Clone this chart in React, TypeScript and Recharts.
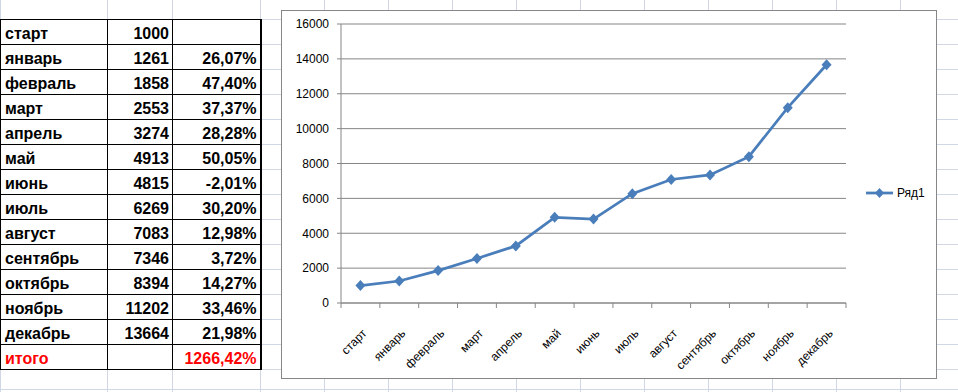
import { LineChart, Line, XAxis, YAxis, CartesianGrid, Legend } from 'recharts'

const MONTHS = ['старт', 'январь', 'февраль', 'март', 'апрель', 'май', 'июнь', 'июль', 'август', 'сентябрь', 'октябрь', 'ноябрь', 'декабрь']
const VALUES = [1000, 1261, 1858, 2553, 3274, 4913, 4815, 6269, 7083, 7346, 8394, 11202, 13664]
const GROWTH = ['', '26,07%', '47,40%', '37,37%', '28,28%', '50,05%', '-2,01%', '30,20%', '12,98%', '3,72%', '14,27%', '33,46%', '21,98%']
const TOTAL_LABEL = 'итого'
const TOTAL_VALUE = '1266,42%'
const Y_TICKS = [0, 2000, 4000, 6000, 8000, 10000, 12000, 14000, 16000]
const SERIES_NAME = 'Ряд1'

const BLUE = '#4A7EBB'
const AXIS_GRAY = '#868686'
const SHEET_GRID = '#D0D7E5'
const COL_X = [0, 107, 172, 260, 324, 388, 452, 516, 580, 644, 708, 772, 836, 900]
const ROW_Y = [19, 44, 69, 94, 119, 144, 169, 194, 219, 244, 269, 294, 319, 344, 369, 389]

const data = MONTHS.map((m, i) => ({ month: m, value: VALUES[i] }))

const Diamond = (props: any) => {
  const { cx, cy } = props
  if (cx == null || cy == null) return null
  return <path d={`M${cx},${cy - 5.5} L${cx + 5},${cy} L${cx},${cy + 5.5} L${cx - 5},${cy} Z`} fill={BLUE} />
}

// label rotated like Excel, plus tick marks on the category boundaries
const MonthTick = (props: any) => {
  const { x, y, payload, index, visibleTicksCount } = props
  const half = payload?.offset ?? 0
  const isLast = index === visibleTicksCount - 1
  return (
    <g>
      <line x1={x - half} y1={y} x2={x - half} y2={y + 5} stroke={AXIS_GRAY} />
      {isLast && <line x1={x + half} y1={y} x2={x + half} y2={y + 5} stroke={AXIS_GRAY} />}
      <g transform={`translate(${x + 7},${y + 31}) rotate(-45)`}>
        <text x={0} y={0} textAnchor="end" fontSize={12} fill="#000" fontFamily="'Liberation Sans', Arial, sans-serif">
          {payload.value}
        </text>
      </g>
    </g>
  )
}

const LegendContent = () => (
  <div style={{ display: 'flex', alignItems: 'center', fontSize: 12, fontFamily: "'Liberation Sans', Arial, sans-serif" }}>
    <svg width={28} height={12}>
      <line x1={0} y1={6} x2={27} y2={6} stroke={BLUE} strokeWidth={2.75} />
      <path d="M13.5,1 L18,6 L13.5,11 L9,6 Z" fill={BLUE} />
    </svg>
    <span style={{ marginLeft: 3 }}>{SERIES_NAME}</span>
  </div>
)

const cell: React.CSSProperties = {
  border: '1px solid #000',
  height: 23,
  padding: '0 3px 1px 4px',
  verticalAlign: 'bottom',
  whiteSpace: 'nowrap',
  lineHeight: '18px',
}

export default function App() {
  return (
    <div style={{ position: 'fixed', left: 0, top: 0, width: 958, height: 392, background: '#fff', overflow: 'hidden' }}>
      {/* spreadsheet grid */}
      {COL_X.map((x) => (
        <div key={'c' + x} style={{ position: 'absolute', left: x, top: 0, width: 1, height: 392, background: SHEET_GRID }} />
      ))}
      {ROW_Y.map((y) => (
        <div key={'r' + y} style={{ position: 'absolute', left: 0, top: y, width: 958, height: 1, background: SHEET_GRID }} />
      ))}

      {/* table */}
      <table
        style={{
          position: 'absolute',
          left: 0,
          top: 19,
          borderCollapse: 'collapse',
          fontFamily: "'Liberation Sans', Arial, sans-serif",
          fontWeight: 'bold',
          fontSize: 16,
          background: '#fff',
          tableLayout: 'fixed',
        }}
      >
        <colgroup>
          <col style={{ width: 107 }} />
          <col style={{ width: 65 }} />
          <col style={{ width: 88 }} />
        </colgroup>
        <tbody>
          {MONTHS.map((m, i) => (
            <tr key={m}>
              <td style={{ ...cell, textAlign: 'left' }}>{m}</td>
              <td style={{ ...cell, textAlign: 'right' }}>{VALUES[i]}</td>
              <td style={{ ...cell, textAlign: 'right', borderRight: '2px solid #000' }}>{GROWTH[i]}</td>
            </tr>
          ))}
          <tr>
            <td style={{ ...cell, color: '#FF0000' }}>{TOTAL_LABEL}</td>
            <td style={cell}></td>
            <td style={{ ...cell, textAlign: 'right', color: '#FF0000', borderRight: '2px solid #000' }}>{TOTAL_VALUE}</td>
          </tr>
        </tbody>
      </table>

      {/* chart */}
      <div
        style={{
          position: 'absolute',
          left: 281,
          top: 10,
          width: 654,
          height: 367,
          border: `1px solid ${AXIS_GRAY}`,
          background: '#fff',
        }}
      >
        <LineChart width={654} height={367} data={data} margin={{ top: 13, right: 90, left: 0, bottom: 0 }}>
          <CartesianGrid vertical={false} stroke={AXIS_GRAY} strokeWidth={1} />
          <XAxis
            dataKey="month"
            scale="band"
            interval={0}
            height={75}
            stroke={AXIS_GRAY}
            tickLine={false}
            tickSize={0}
            tickMargin={0}
            tick={<MonthTick />}
          />
          <YAxis
            width={59}
            domain={[0, 16000]}
            ticks={Y_TICKS}
            tickSize={4}
            tickMargin={8}
            stroke={AXIS_GRAY}
            tick={{ fontSize: 12, fill: '#000', fontFamily: "'Liberation Sans', Arial, sans-serif" }}
          />
          <Legend
            layout="horizontal"
            verticalAlign="middle"
            align="center"
            wrapperStyle={{ left: 584, top: 175, width: 'auto' }}
            content={<LegendContent />}
          />
          <Line
            type="linear"
            dataKey="value"
            name={SERIES_NAME}
            stroke={BLUE}
            strokeWidth={2.75}
            dot={<Diamond />}
            activeDot={false}
            isAnimationActive={false}
          />
        </LineChart>
      </div>
    </div>
  )
}
